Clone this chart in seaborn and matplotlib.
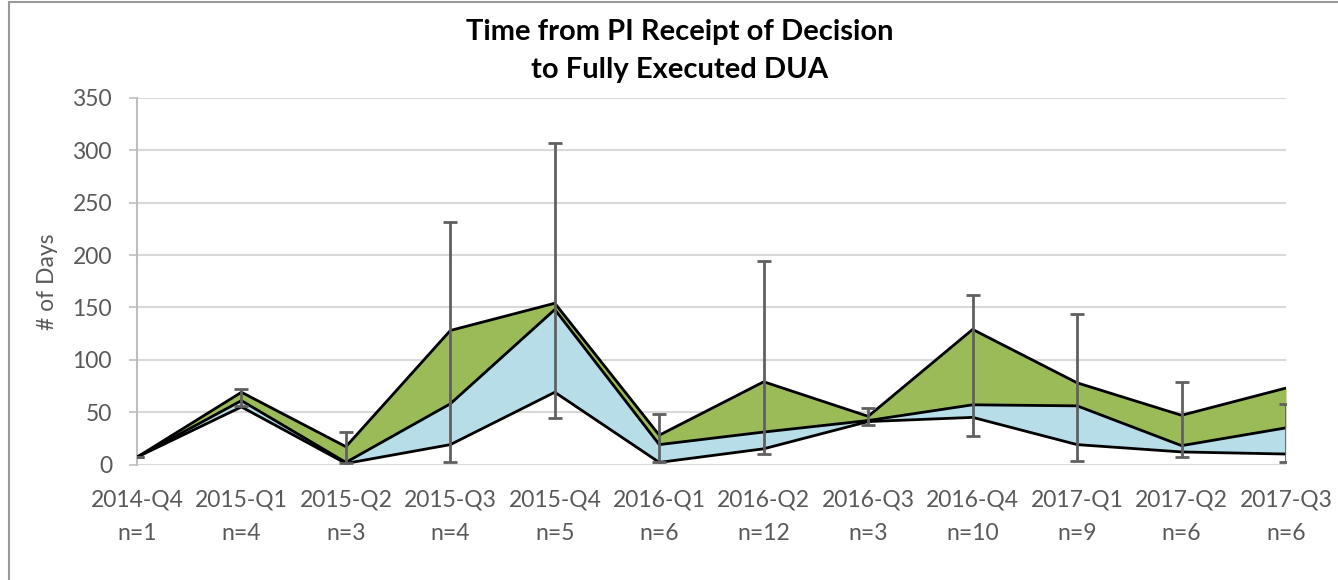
import matplotlib
matplotlib.use("Agg")
import matplotlib.pyplot as plt
import seaborn as sns
import pandas as pd
import numpy as np
from matplotlib.lines import Line2D

quarters = ["2014-Q4", "2015-Q1", "2015-Q2", "2015-Q3", "2015-Q4", "2016-Q1",
            "2016-Q2", "2016-Q3", "2016-Q4", "2017-Q1", "2017-Q2", "2017-Q3"]
counts = [1, 4, 3, 4, 5, 6, 12, 3, 10, 9, 6, 6]
q1_days = [7, 55, 1, 19, 69, 2, 15, 41, 45, 19, 12, 10]
median_days = [7, 61, 2, 58, 148, 19, 31, 42, 57, 56, 18, 35]
q3_days = [7, 69, 17, 128, 154, 28, 79, 46, 129, 78, 47, 73]
min_days = [7, 56, 1, 2, 44, 2, 10, 38, 27, 3, 7, 2]
max_days = [7, 72, 31, 232, 307, 48, 194, 54, 162, 144, 79, 58]

sns.set_theme(style="white")
plt.rcParams['font.family'] = ['Lato', 'DejaVu Sans']

W, H = 1338, 580
fig = plt.figure(figsize=(W / 100, H / 100), dpi=100)
ax = fig.add_axes([137 / W, 1 - 464.5 / H, (1286 - 137) / W, (464.5 - 98) / H])

x = np.arange(len(quarters))
df = pd.DataFrame({"x": x, "q1": q1_days, "med": median_days, "q3": q3_days,
                   "lo": min_days, "hi": max_days})

green = "#9BBB59"
blue = "#B7DEE8"
ax.fill_between(df["x"], df["q1"], df["med"], color=blue, lw=0, zorder=2)
ax.fill_between(df["x"], df["med"], df["q3"], color=green, lw=0, zorder=2)
for col in ["q1", "med", "q3"]:
    sns.lineplot(data=df, x="x", y=col, ax=ax, color="black", lw=2, zorder=3,
                 legend=False)

med = np.array(median_days)
yerr = np.vstack([med - np.array(min_days), np.array(max_days) - med])
ax.errorbar(df["x"], med, yerr=yerr, fmt="none", ecolor="#606060",
            elinewidth=2, capsize=5, capthick=2, zorder=4)

ax.set_xlim(0, len(quarters) - 1)
ax.set_ylim(0, 350)
ax.set_yticks(range(0, 351, 50))
ax.set_xticks(x)
ax.set_xticklabels([f"{q}\nn={n}" for q, n in zip(quarters, counts)],
                   linespacing=1.75)
ax.yaxis.grid(True, color="#d9d9d9", lw=1.5, zorder=0)
ax.xaxis.grid(False)
for s in ["top", "right", "bottom"]:
    ax.spines[s].set_visible(False)
ax.spines["left"].set_color("#bfbfbf")
ax.spines["left"].set_linewidth(1.5)
ax.tick_params(axis="y", which="major", direction="out", length=6, width=1.2,
               color="#bfbfbf", left=True, labelsize=16.5, labelcolor="#595959", pad=12)
ax.tick_params(axis="x", length=0, labelsize=16.5, labelcolor="#595959", pad=18)
ax.set_xlabel("")
ax.set_ylabel("# of Days", fontsize=16.5, color="#595959", labelpad=10)
ax.set_axisbelow(True)

fig.text(680 / W, 1 - 51 / H, "Time from PI Receipt of Decision\nto Fully Executed DUA",
         ha="center", va="center", fontsize=21, fontweight="bold", color="black",
         linespacing=1.55)

fig.add_artist(Line2D([8.5 / W, 8.5 / W], [0, 1 - 2 / H], transform=fig.transFigure,
                      color="#9a9a9a", lw=1.5))
fig.add_artist(Line2D([8.5 / W, 1], [1 - 2 / H, 1 - 2 / H], transform=fig.transFigure,
                      color="#9a9a9a", lw=1.5))

fig.savefig("out.png", dpi=100, facecolor="white")
